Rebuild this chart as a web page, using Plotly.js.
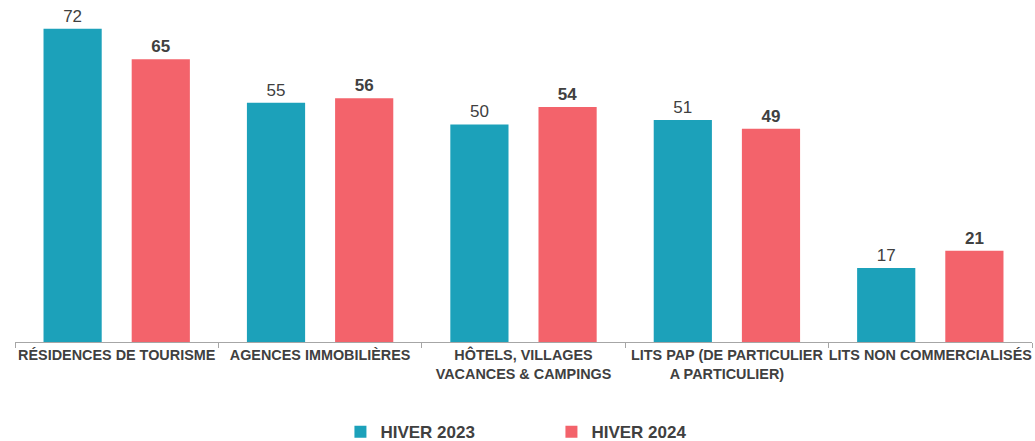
<!DOCTYPE html>
<html><head><meta charset="utf-8">
<script src="https://cdn.plot.ly/plotly-3.0.1.min.js"></script>
<style>html,body{margin:0;padding:0;background:#fff}#chart{width:1035px;height:441px}</style>
</head><body><div id="chart"></div>
<script>
const categories = ["RÉSIDENCES DE TOURISME", "AGENCES IMMOBILIÈRES", "HÔTELS, VILLAGES<br>VACANCES & CAMPINGS", "LITS PAP (DE PARTICULIER<br>A PARTICULIER)", "LITS NON COMMERCIALISÉS"];
const hiver2023 = [72, 55, 50, 51, 17];
const hiver2024 = [65, 56, 54, 49, 21];
const seriesNames = ["HIVER 2023", "HIVER 2024"];

const traces = [
  {type:'bar', name:seriesNames[0], x:categories, y:hiver2023, marker:{color:'#1CA1BA'},
   text:hiver2023.map(String), textposition:'outside', cliponaxis:false,
   textfont:{family:'Arial, Liberation Sans', size:17, color:'#404040'}},
  {type:'bar', name:seriesNames[1], x:categories, y:hiver2024, marker:{color:'#F3636B'},
   text:hiver2024.map(v=>'<b>'+v+'</b>'), textposition:'outside', cliponaxis:false,
   textfont:{family:'Arial, Liberation Sans', size:17, color:'#404040'}}
];
const layout = {
  width:1035, height:441,
  margin:{l:15, r:3, t:0, b:99, autoexpand:false},
  paper_bgcolor:'#fff', plot_bgcolor:'#fff',
  barmode:'group', bargap:0.133, bargroupgap:0.34,
  font:{family:'Arial, Liberation Sans', color:'#404040'},
  xaxis:{showline:true, linecolor:'#A6A6A6', linewidth:1, ticks:'outside', tickson:'boundaries',
    ticklen:5, tickcolor:'#A6A6A6', tickangle:0, automargin:false,
    tickfont:{family:'Arial, Liberation Sans', size:14.4, color:'#404040', weight:'bold'}},
  yaxis:{range:[0,78.6], visible:false, showgrid:false, zeroline:false, automargin:false},
  showlegend:true,
  legend:{orientation:'h', x:0.320, xanchor:'left', yref:'container', y:0.02, yanchor:'middle',
    entrywidth:166, entrywidthmode:'pixels', itemwidth:30,
    font:{family:'Arial, Liberation Sans', size:17, color:'#404040', weight:'bold'}}
};
Plotly.newPlot('chart', traces, layout, {displayModeBar:false, staticPlot:true});
</script></body></html>
